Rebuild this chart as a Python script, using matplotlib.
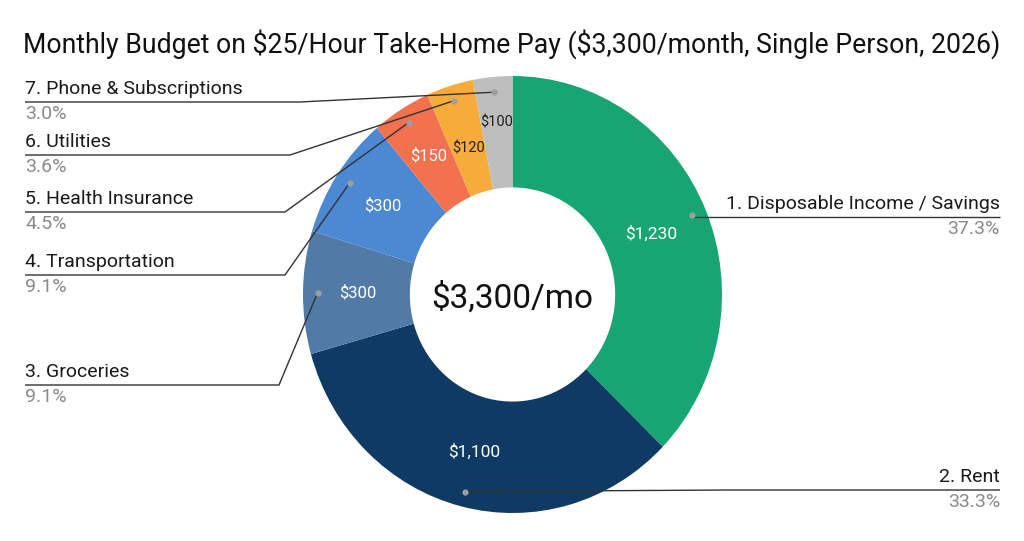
import numpy as np
import matplotlib.pyplot as plt

plt.rcParams['font.family'] = ['Roboto', 'DejaVu Sans']
plt.rcParams['text.parse_math'] = False

# data
categories = ['Disposable Income / Savings', 'Rent', 'Groceries', 'Transportation',
              'Health Insurance', 'Utilities', 'Phone & Subscriptions']
amounts = [1230, 1100, 300, 300, 150, 120, 100]
colors = ['#17a673', '#0e3a63', '#517aa6', '#4d88d2', '#f2714f', '#f7ab3b', '#bebebe']
value_colors = ['white', 'white', 'white', 'white', 'white', '#222222', '#222222']
value_sizes = [12.5, 12.5, 12, 12, 12, 10.5, 10.5]
title = 'Monthly Budget on $25/Hour Take-Home Pay ($3,300/month, Single Person, 2026)'
center_label = '$3,300/mo'

W, H = 1024, 541
fig = plt.figure(figsize=(W / 100, H / 100), dpi=100)

# donut box in pixels
left, top, right, bottom = 303, 76, 722, 513
ax = fig.add_axes([left / W, 1 - bottom / H, (right - left) / W, (bottom - top) / H])
wedges, _ = ax.pie(amounts, colors=colors, startangle=90, counterclock=False,
                   wedgeprops=dict(width=0.51, linewidth=0))
for w in wedges:
    w.set_clip_on(False)
ax.set_aspect('auto')
ax.set_xlim(-1, 1)
ax.set_ylim(-1, 1)
ax.axis('off')

tot = sum(amounts)
mid = 90 - 360 * (np.cumsum(amounts) - np.array(amounts) / 2) / tot

# value labels inside the ring
value_r = [0.72, 0.74, 0.74, 0.74, 0.75, 0.70, 0.79]
for i, v in enumerate(amounts):
    a = np.radians(mid[i])
    ax.text(value_r[i] * np.cos(a), value_r[i] * np.sin(a), f'${v:,}', ha='center', va='center',
            color=value_colors[i], fontsize=value_sizes[i])
ax.text(0, -0.02, center_label, ha='center', va='center', fontsize=24, color='#111111')

# overlay in pixel coords for leader lines and labels
ov = fig.add_axes([0, 0, 1, 1], facecolor='none')
ov.set_xlim(0, W)
ov.set_ylim(H, 0)
ov.axis('off')


def to_px(r, ang):
    a = np.radians(ang)
    disp = ax.transData.transform((r * np.cos(a), r * np.sin(a)))
    return ov.transData.inverted().transform(disp)


# label layout: (index, side, line y, elbow x)
layout = [(0, 'right', 217, None), (1, 'right', 490, 730),
          (2, 'left', 385, 279), (3, 'left', 275, 285), (4, 'left', 212, 285),
          (5, 'left', 155, 290), (6, 'left', 102, 300)]

for i, side, ly, ex in layout:
    dx, dy = to_px(0.93, mid[i])
    tx = 25 if side == 'left' else 1000
    if ex is None:
        ex = dx
    ov.plot([tx, ex, dx], [ly, ly, dy], color='#333333', lw=1.0, solid_capstyle='butt')
    ov.plot(dx, dy, 'o', color='#9e9e9e', ms=4.5, mec='none')
    ha = 'left' if side == 'left' else 'right'
    ov.text(tx, ly - 4, f'{i + 1}. {categories[i]}', ha=ha, va='bottom', fontsize=14, color='#1a1a1a')
    ov.text(tx, ly + 3, f'{amounts[i] / tot * 100:.1f}%', ha=ha, va='top', fontsize=14, color='#8a8a8a')

ov.text(512, 53, title, ha='center', va='baseline', fontsize=19.2, color='#111111')

fig.savefig('out.png', dpi=100)
